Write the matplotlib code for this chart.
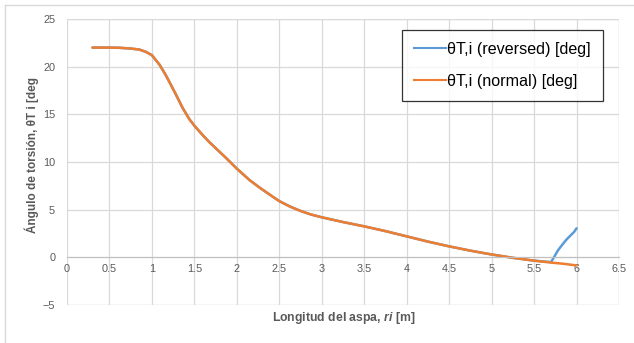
import numpy as np, matplotlib
matplotlib.use("Agg")
import matplotlib.pyplot as plt
from matplotlib.lines import Line2D

plt.rcParams["font.family"] = ["Liberation Sans", "DejaVu Sans"]
plt.rcParams["mathtext.fontset"] = "custom"
plt.rcParams["mathtext.it"] = "Liberation Sans:italic:bold"
plt.rcParams["mathtext.rm"] = "Liberation Sans:bold"

# radial position [m] and twist angle [deg]
r_normal = [0.3, 0.5, 0.62, 0.75, 0.85, 0.93, 1.0, 1.09, 1.17, 1.27, 1.36, 1.44, 1.51,
            1.6, 1.68, 1.87, 2.0, 2.15, 2.27, 2.4, 2.5, 2.62, 2.74, 2.87, 3.0, 3.25, 3.5,
            3.75, 4.0, 4.25, 4.5, 4.75, 5.0, 5.25, 5.5, 5.7, 5.85, 6.0]
theta_normal = [22.0, 22.0, 21.98, 21.9, 21.8, 21.55, 21.2, 20.2, 19.0, 17.3, 15.7, 14.5,
                13.7, 12.8, 12.05, 10.45, 9.3, 8.1, 7.3, 6.5, 5.9, 5.35, 4.9, 4.5, 4.2, 3.7,
                3.25, 2.75, 2.2, 1.65, 1.15, 0.7, 0.3, -0.05, -0.35, -0.55, -0.68, -0.85]

r_rev = r_normal[:35] + [5.7, 5.74, 5.78, 5.83, 5.88, 5.93, 5.97, 6.0]
theta_rev = theta_normal[:35] + [-0.5, 0.1, 0.72, 1.3, 1.85, 2.3, 2.65, 3.05]

xticks = np.arange(0, 6.51, 0.5)
yticks = [-5, 0, 5, 10, 15, 20, 25]

BLUE = "#5B9BD5"
ORANGE = "#ED7D31"
GRID = "#D9D9D9"
TXT = "#595959"

fig = plt.figure(figsize=(6.34, 3.43), dpi=100, facecolor="white")
ax = fig.add_axes([67/634, 1-305/343, 552/634, 286/343])

ax.plot(r_rev, theta_rev, color=BLUE, lw=1.8, solid_capstyle="round", solid_joinstyle="round")
ax.plot(r_normal, theta_normal, color=ORANGE, lw=1.8, solid_capstyle="round", solid_joinstyle="round")

ax.set_xlim(0, 6.5); ax.set_ylim(-5, 25)
ax.set_xticks(xticks); ax.set_yticks(yticks)
ax.set_xticklabels([f"{v:g}" for v in xticks])
ax.grid(color=GRID, lw=0.9); ax.set_axisbelow(True)
for s in ["top", "right", "left"]: ax.spines[s].set_visible(False)
ax.spines["bottom"].set_position(("data", 0))
ax.spines["bottom"].set_color("#BFBFBF")
ax.axhline(-5, color=GRID, lw=0.9, zorder=0)
ax.axhline(25, color=GRID, lw=0.9, zorder=0)
ax.axvline(6.5, color=GRID, lw=0.9, zorder=0)
ax.tick_params(length=0, colors=TXT, labelsize=7.8)
ax.tick_params(axis="x", pad=5)
ax.tick_params(axis="y", pad=8.5)

fig.text(344/634, 1-318/343, r"Longitud del aspa, $\mathit{ri}$ [m]", color=TXT,
         fontsize=8.8, fontweight="bold", ha="center", va="center")
fig.text(32/634, 1-155/343, "Ángulo de torsión, θT i [deg", color=TXT,
         fontsize=8.5, fontweight="bold", ha="center", va="center", rotation=90)

handles = [Line2D([], [], color=BLUE, lw=1.5), Line2D([], [], color=ORANGE, lw=1.5)]
leg = ax.legend(handles, ["θT,i (reversed) [deg]", "θT,i (normal) [deg]"],
                loc="upper right", bbox_to_anchor=(536/552, 1-11/286), fontsize=11.6,
                frameon=True, fancybox=False, edgecolor="black", handlelength=2.0,
                handletextpad=0.05, labelspacing=1.05, borderpad=0.75, borderaxespad=0)
leg.get_frame().set_linewidth(0.9)

# chart-area border
fig.add_artist(Line2D([5/634, 1], [1-5/343, 1-5/343], color="#D9D9D9", lw=1))
fig.add_artist(Line2D([5/634, 5/634], [0, 1-5/343], color="#D9D9D9", lw=1))

fig.savefig("out.png", dpi=100)
